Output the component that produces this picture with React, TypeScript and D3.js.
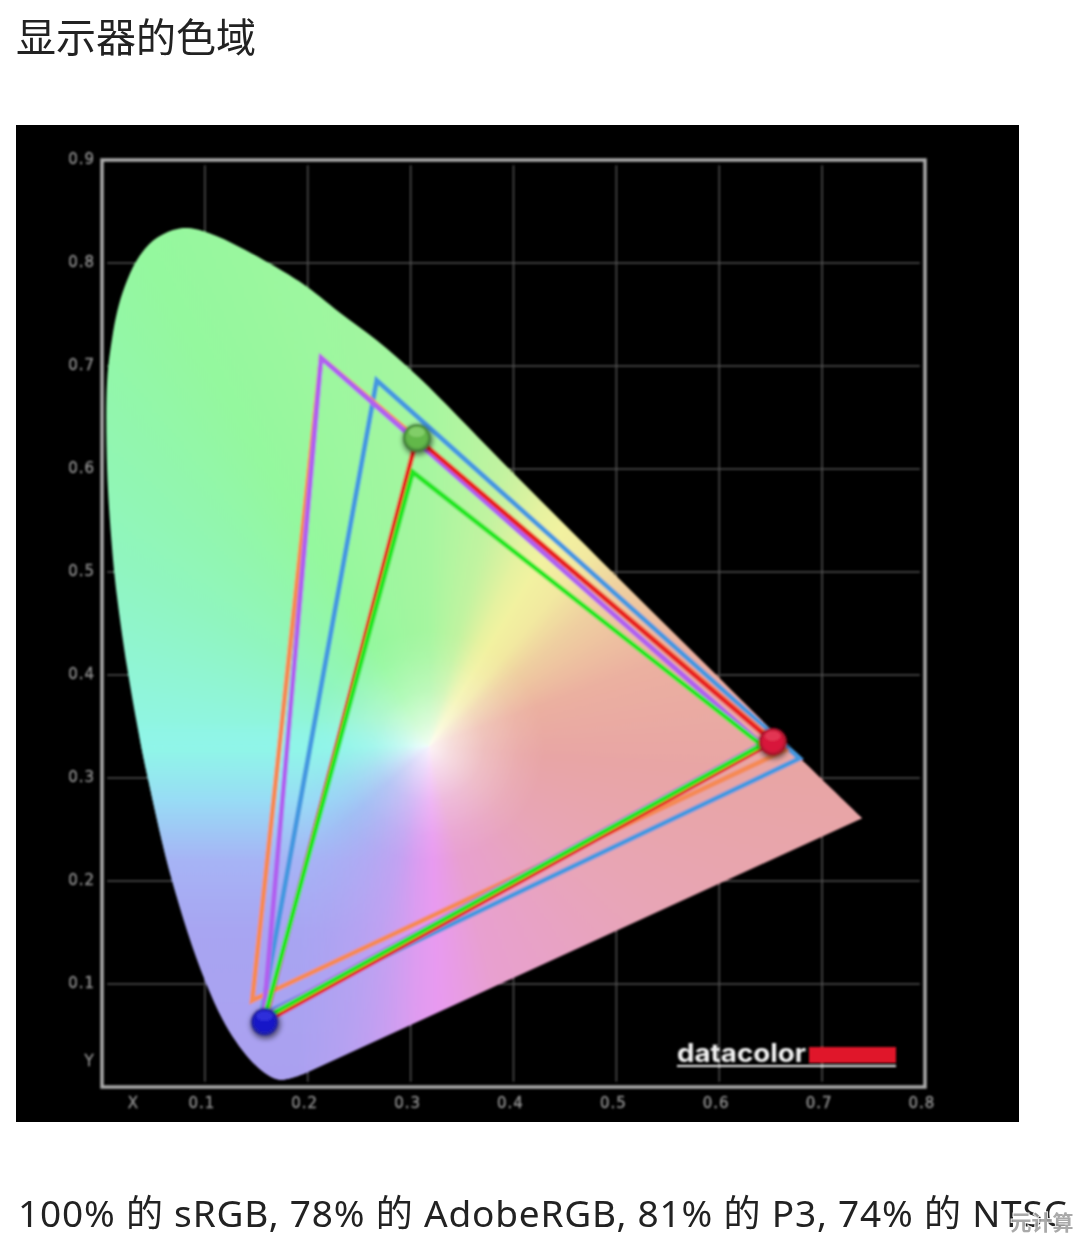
import React from "react";
import * as d3 from "d3";

const titleText = "显示器的色域";
const captionText = "100% 的 sRGB, 78% 的 AdobeRGB, 81% 的 P3, 74% 的 NTSC";
const xTicks = [0.1, 0.2, 0.3, 0.4, 0.5, 0.6, 0.7, 0.8];
const yTicks = [0.1, 0.2, 0.3, 0.4, 0.5, 0.6, 0.7, 0.8, 0.9];

const locusX = [0.739, 0.678, 0.581, 0.484, 0.387, 0.309, 0.267, 0.231, 0.192, 0.127, 0.098, 0.083, 0.069, 0.05, 0.034, 0.022, 0.015, 0.01, 0.005, 0.005, 0.0097, 0.0146, 0.0243, 0.035, 0.045, 0.068, 0.1, 0.127, 0.154, 0.173, 0.199];
const locusY = [0.261, 0.32, 0.416, 0.512, 0.609, 0.688, 0.725, 0.752, 0.782, 0.819, 0.831, 0.834, 0.832, 0.822, 0.803, 0.777, 0.754, 0.728, 0.686, 0.599, 0.524, 0.476, 0.408, 0.347, 0.298, 0.201, 0.104, 0.049, 0.017, 0.007, 0.014];

const whitePoint = [0.318, 0.331];
const hueAngles = [0, 15, 25, 31, 40, 50, 70, 95, 130, 165, 178, 195, 228, 245, 270, 300, 330, 360];
const hueColors = ["#A6F6A0", "#C2F3A0", "#E5F2A0", "#F2F2A0", "#F2E8A0", "#EFD0A0", "#EBB0A0", "#E8A5A5", "#E8A5B8", "#E8A0D0", "#E89AF0", "#C8A0F2", "#A5A5F2", "#A0C4F5", "#90F5E8", "#90F5C0", "#94F89E", "#A6F6A0"];
const leftBandY = [720, 750, 800, 860, 930, 1090];
const leftBandColors = ["rgba(144,245,232,0)", "#90F5E8", "#98DCF5", "#A6B4F5", "#A8A5F2", "#ABA0F0"];

const adobeX = [0.213, 0.641, 0.157];
const adobeY = [0.708, 0.333, 0.068];
const ntscX = [0.213, 0.664, 0.146];
const ntscY = [0.708, 0.327, 0.084];
const p3X = [0.267, 0.678, 0.155];
const p3Y = [0.686, 0.319, 0.07];
const srgbX = [0.302, 0.641, 0.158];
const srgbY = [0.597, 0.332, 0.067];
const measuredX = [0.306, 0.652, 0.158];
const measuredY = [0.63, 0.335, 0.063];

const triangles = [
  { name: "P3", xs: p3X, ys: p3Y, color: "#4598E0" },
  { name: "NTSC", xs: ntscX, ys: ntscY, color: "#F58A55" },
  { name: "AdobeRGB", xs: adobeX, ys: adobeY, color: "#B060F0" },
  { name: "measured", xs: measuredX, ys: measuredY, color: "#E82020" },
  { name: "sRGB", xs: srgbX, ys: srgbY, color: "#22E622" },
];
const balls = [
  { id: "ballG", i: 0, hi: "#A8E890", mid: "#62B848", lo: "#2F5F30" },
  { id: "ballR", i: 1, hi: "#F06070", mid: "#D8143A", lo: "#801020" },
  { id: "ballB", i: 2, hi: "#4848F0", mid: "#1818C8", lo: "#303080" },
];

const x = d3.scaleLinear().domain([0, 0.8]).range([102, 925]);
const y = d3.scaleLinear().domain([0, 0.9]).range([1087, 160]);

export default function App() {
  const locus = locusX.map((v, i) => [x(v), y(locusY[i])] as [number, number]);
  const locusPath = (d3.line().curve(d3.curveCatmullRom.alpha(0.5))(locus) || "") + "Z";
  const cx = x(whitePoint[0]);
  const cy = y(whitePoint[1]);
  const conic = hueAngles.map((a, i) => `${hueColors[i]} ${a}deg`).join(",");
  const bg = `radial-gradient(circle 115px at ${cx}px ${cy}px, rgba(255,255,255,0.88) 0%, rgba(255,255,255,0.6) 20%, rgba(255,255,255,0.28) 48%, rgba(255,255,255,0.08) 78%, rgba(255,255,255,0) 100%), conic-gradient(from 0deg at ${cx}px ${cy}px, ${conic})`;
  const band = `linear-gradient(to bottom, ${leftBandY.map((p, i) => `${leftBandColors[i]} ${p}px`).join(",")})`;
  const bandMask = `linear-gradient(to right, #000 300px, transparent 415px)`;
  const tri = d3.line().curve(d3.curveLinearClosed);
  const tickFont = { fontFamily: "DejaVu Sans", fontSize: 15, fill: "#8e8e8e", stroke: "#8e8e8e", strokeWidth: 0.4 } as const;

  return (
    <svg width={1080} height={1241} viewBox="0 0 1080 1241" style={{ position: "absolute", left: 0, top: 0, background: "#fff" }}>
      <defs>
        <filter id="soft" x="-5%" y="-5%" width="110%" height="110%"><feGaussianBlur stdDeviation="0.9" /></filter>
        <filter id="textSoft" x="-5%" y="-20%" width="110%" height="140%"><feGaussianBlur stdDeviation="0.35" /></filter>
        <filter id="shadow" x="-50%" y="-50%" width="200%" height="200%"><feGaussianBlur stdDeviation="2.5" /></filter>
        <clipPath id="locusClip"><path d={locusPath} /></clipPath>
        {balls.map((b) => (
          <radialGradient key={b.id} id={b.id} cx="50%" cy="48%" r="55%">
            <stop offset="0%" stopColor={b.mid} />
            <stop offset="62%" stopColor={b.mid} />
            <stop offset="100%" stopColor={b.lo} />
          </radialGradient>
        ))}
      </defs>

      <text x={16} y={52} fontFamily="'Noto Sans CJK SC'" fontSize={40} fill="#222" filter="url(#textSoft)">{titleText}</text>

      <rect x={16} y={125} width={1003} height={997} fill="#000" />
      <g filter="url(#soft)">
        {xTicks.slice(0, -1).map((t) => (
          <line key={t} x1={x(t)} x2={x(t)} y1={y(0.895)} y2={y(0.005)} stroke="#505050" strokeWidth={1.5} />
        ))}
        {yTicks.slice(0, -1).map((t) => (
          <line key={t} x1={x(0.005)} x2={x(0.795)} y1={y(t)} y2={y(t)} stroke="#505050" strokeWidth={1.5} />
        ))}
        <rect x={x(0)} y={y(0.9)} width={x(0.8) - x(0)} height={y(0) - y(0.9)} fill="none" stroke="#aaaaaa" strokeWidth={3.5} />

        <g clipPath="url(#locusClip)">
          <foreignObject x={0} y={0} width={1080} height={1241}>
            <div style={{ position: "relative", width: 1080, height: 1241, background: bg }}>
              <div style={{ position: "absolute", left: 0, top: 0, width: 1080, height: 1241, background: band, WebkitMaskImage: bandMask, maskImage: bandMask }} />
            </div>
          </foreignObject>
        </g>

        {triangles.map((t) => (
          <path
            key={t.name}
            d={tri(t.xs.map((v, i) => [x(v), y(t.ys[i])] as [number, number])) || ""}
            fill="none"
            stroke={t.color}
            strokeWidth={5}
            strokeLinejoin="miter"
          />
        ))}

        {balls.map((b) => {
          const px = x(measuredX[b.i]);
          const py = y(measuredY[b.i]);
          return (
            <g key={b.id}>
              <circle cx={px + 1} cy={py + 2} r={15} fill="#000" opacity={0.5} filter="url(#shadow)" />
              <circle cx={px} cy={py} r={14} fill={`url(#${b.id})`} />
              <ellipse cx={px} cy={py - 6} rx={8} ry={5} fill={b.hi} opacity={0.45} />
            </g>
          );
        })}

        <g {...tickFont}>
          {yTicks.map((t) => (
            <text key={t} x={95} y={y(t) + 4} textAnchor="end" letterSpacing={1}>{t.toFixed(1)}</text>
          ))}
          {xTicks.map((t) => (
            <text key={t} x={x(t) - 3} y={1108} textAnchor="middle" letterSpacing={1}>{t.toFixed(1)}</text>
          ))}
          <text x={133} y={1108} textAnchor="middle">X</text>
          <text x={89} y={1066} textAnchor="middle">Y</text>
        </g>

        <text x={677} y={1062} fontFamily="Inter" fontWeight={700} fontSize={25} fill="#f2f2f2" textLength={129} lengthAdjust="spacingAndGlyphs">datacolor</text>
        <rect x={809} y={1047} width={87} height={16} fill="#E0162B" />
        <rect x={677} y={1065} width={219} height={2} fill="#f2f2f2" />
      </g>

      <text x={18} y={1227} fontFamily="'Noto Sans','Noto Sans CJK SC'" fontSize={37} fill="#222" textLength={1049} lengthAdjust="spacing" filter="url(#textSoft)">{captionText}</text>
      <text x={1042} y={1230} textAnchor="middle" fontFamily="'Noto Sans CJK SC'" fontWeight={700} fontSize={21} fill="#a0a0a0" stroke="#fff" strokeWidth={2} paintOrder="stroke" opacity={0.9}>元计算</text>
    </svg>
  );
}
